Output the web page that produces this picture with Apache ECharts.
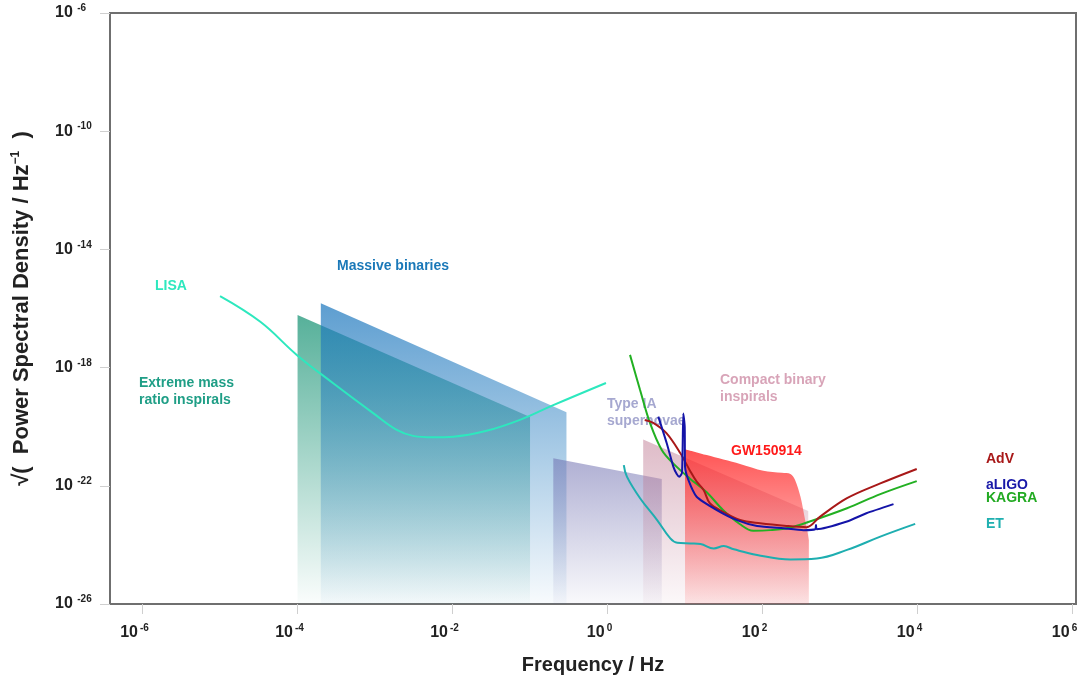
<!DOCTYPE html>
<html>
<head>
<meta charset="utf-8">
<script src="https://cdn.jsdelivr.net/npm/echarts@6/dist/echarts.min.js"></script>
<style>
  html, body { margin: 0; padding: 0; background: #ffffff; }
  #chart { width: 1078px; height: 677px; }
</style>
</head>
<body>
<div id="chart"></div>
<script>
// All values are log10: frequency in Hz, strain in 1/sqrt(Hz).
const xTickExps = [-6, -4, -2, 0, 2, 4, 6];
const yTickExps = [-26, -22, -18, -14, -10, -6];

// Source regions: top edge of each band (filled down to the axis floor)
const emriTop = [[-4.0, -16.22], [-1.0, -19.67]];
const massiveTop = [[-3.70, -15.82], [-0.53, -19.51]];
const typeIaTop = [[-0.70, -21.07], [0.70, -21.77]];
const compactTop = [[0.46, -20.43], [2.59, -22.85]];
const gw150914Top = [
  [1.00, -20.76], [1.28, -20.96], [1.71, -21.26], [2.01, -21.49], [2.25, -21.56],
  [2.36, -21.60], [2.42, -21.80], [2.49, -22.37], [2.55, -23.16], [2.60, -23.83]
];

// Detector sensitivity curves
const lisa = [
  [-5.00, -15.58], [-4.48, -16.45], [-4.01, -17.57], [-3.54, -18.53], [-3.02, -19.55],
  [-2.72, -20.11], [-2.51, -20.31], [-2.25, -20.36], [-1.99, -20.34], [-1.56, -20.14],
  [-1.13, -19.77], [-0.70, -19.27], [-0.02, -18.52]
];
const et = [
  [0.21, -21.30], [0.25, -21.69], [0.42, -22.42], [0.64, -23.16], [0.81, -23.78],
  [0.90, -23.93], [1.07, -23.95], [1.20, -23.97], [1.37, -24.12], [1.50, -24.04],
  [1.63, -24.15], [1.93, -24.34], [2.36, -24.49], [2.70, -24.46], [3.09, -24.17],
  [3.52, -23.72], [3.97, -23.29]
];
const aligo = [
  [0.655, -19.66], [0.764, -20.56], [0.849, -21.35], [0.893, -21.60], [0.926, -21.69],
  [0.961, -21.56], [0.978, -19.55], [0.996, -20.00], [1.000, -21.35], [1.043, -21.80],
  [1.15, -22.37], [1.41, -22.82], [1.67, -23.16], [1.93, -23.36], [2.27, -23.44],
  [2.53, -23.50], [2.68, -23.47], [2.69, -23.33], [2.70, -23.47], [3.09, -23.21],
  [3.34, -22.93], [3.69, -22.62]
];
const adv = [
  [0.48, -19.77], [0.59, -19.87], [0.76, -20.22], [0.94, -20.90], [1.06, -21.47],
  [1.15, -21.86], [1.24, -22.14], [1.32, -22.59], [1.49, -22.88], [1.71, -23.16],
  [1.97, -23.27], [2.31, -23.36], [2.57, -23.40], [2.74, -23.05], [3.09, -22.42],
  [3.52, -21.92], [3.99, -21.43]
];
const kagra = [
  [0.29, -17.57], [0.42, -18.76], [0.55, -19.89], [0.70, -20.79], [0.85, -21.25],
  [1.06, -21.75], [1.28, -22.22], [1.49, -22.82], [1.71, -23.30], [1.88, -23.52],
  [2.10, -23.50], [2.35, -23.42], [2.61, -23.21], [3.09, -22.76], [3.52, -22.28],
  [3.99, -21.84]
];

const labelFont = 'Arial, "Liberation Sans", sans-serif';
const narrowFont = '"Liberation Sans Narrow", "Arial Narrow", Arial, sans-serif';

function vGrad(r, g, b, aTop, aBottom) {
  return new echarts.graphic.LinearGradient(0, 0, 0, 1, [
    { offset: 0, color: `rgba(${r},${g},${b},${aTop})` },
    { offset: 1, color: `rgba(${r},${g},${b},${aBottom})` }
  ]);
}

function band(name, data, fill, smooth) {
  return {
    name, type: 'line', data, smooth: smooth || false, symbol: 'none', silent: true, z: 2,
    lineStyle: { width: 0, opacity: 0 },
    areaStyle: { origin: 'start', color: fill, opacity: 1 }
  };
}

function curve(name, data, color, smooth) {
  return {
    name, type: 'line', data, smooth, symbol: 'none', silent: true, z: 5,
    lineStyle: { width: 2, color }
  };
}

function note(text, x, y, color) {
  return {
    type: 'text', left: x, top: y, z: 1, silent: true,
    style: { text, fill: color, font: 'bold 14px ' + labelFont, lineHeight: 17 }
  };
}

const chart = echarts.init(document.getElementById('chart'), null, { renderer: 'canvas' });

chart.setOption({
  backgroundColor: '#ffffff',
  animation: false,
  grid: {
    left: 110, top: 13, width: 966, height: 591, outerBoundsMode: 'none', containLabel: false,
    show: true, borderColor: '#6f6f6f', borderWidth: 2, backgroundColor: 'transparent'
  },
  xAxis: {
    type: 'value', min: -6.42, max: 6.045,
    name: 'Frequency / Hz', nameLocation: 'middle', nameGap: 51,
    nameTextStyle: { fontFamily: narrowFont, fontWeight: 'bold', fontSize: 20, color: '#222' },
    splitLine: { show: false },
    axisLine: { show: false, onZero: false },
    axisTick: { show: true, customValues: xTickExps, length: 10, lineStyle: { color: '#cfcfcf', width: 1 } },
    axisLabel: {
      customValues: xTickExps, margin: 19,
      formatter: v => '{b|10}{s|' + v + '}',
      rich: {
        b: { fontFamily: narrowFont, fontWeight: 'bold', fontSize: 16, color: '#222' },
        s: { fontFamily: narrowFont, fontWeight: 'bold', fontSize: 10, color: '#222', padding: [0, 16, 9, 2] }
      }
    }
  },
  yAxis: {
    type: 'value', min: -26, max: -6, interval: 4,
    name: '√(  Power Spectral Density / Hz{s|−1}  )', nameLocation: 'middle', nameGap: 77, nameRotate: 90,
    nameTextStyle: {
      fontFamily: labelFont, fontWeight: 'bold', fontSize: 22, color: '#222',
      rich: { s: { fontFamily: labelFont, fontWeight: 'bold', fontSize: 12, color: '#222', padding: [0, 0, 11, 0] } }
    },
    splitLine: { show: false },
    axisLine: { show: false, onZero: false },
    axisTick: { show: true, customValues: yTickExps, length: 10, lineStyle: { color: '#cfcfcf', width: 1 } },
    axisLabel: {
      customValues: yTickExps, margin: 55, align: 'left',
      formatter: v => '{b|10 }{s|' + v + '}',
      rich: {
        b: { fontFamily: labelFont, fontWeight: 'bold', fontSize: 16, color: '#222' },
        s: { fontFamily: labelFont, fontWeight: 'bold', fontSize: 10, color: '#222', padding: [0, 0, 9, 0] }
      }
    }
  },
  series: [
    band('Extreme mass ratio inspirals', emriTop, vGrad(30, 150, 120, 0.75, 0.02)),
    band('Massive binaries', massiveTop, vGrad(30, 120, 190, 0.72, 0.03)),
    band('Type IA supernovae', typeIaTop, vGrad(110, 110, 175, 0.55, 0.04)),
    band('Compact binary inspirals', compactTop, vGrad(190, 120, 145, 0.5, 0.05)),
    band('GW150914', gw150914Top, vGrad(255, 40, 40, 0.8, 0.1), 0.3),
    curve('LISA', lisa, '#2de8be', 0.4),
    curve('ET', et, '#1eaeb0', 0.4),
    curve('KAGRA', kagra, '#22b022', 0.35),
    curve('AdV', adv, '#a81818', 0.35),
    curve('aLIGO', aligo, '#1414a8', 0.2)
  ],
  graphic: [
    note('LISA', 155, 278, '#2de8be'),
    note('Massive binaries', 337, 258, '#1a78b8'),
    note('Extreme mass\nratio inspirals', 139, 375, '#1f9e86'),
    note('Type IA\nsupernovae', 607, 396, '#a6a8d0'),
    note('Compact binary\ninspirals', 720, 372, '#d8a4b8'),
    note('GW150914', 731, 443, '#ff1a1a'),
    note('AdV', 986, 451, '#a81818'),
    note('aLIGO', 986, 477, '#1818a8'),
    note('KAGRA', 986, 490, '#22aa22'),
    note('ET', 986, 516, '#20b0b0')
  ]
});
</script>
</body>
</html>
